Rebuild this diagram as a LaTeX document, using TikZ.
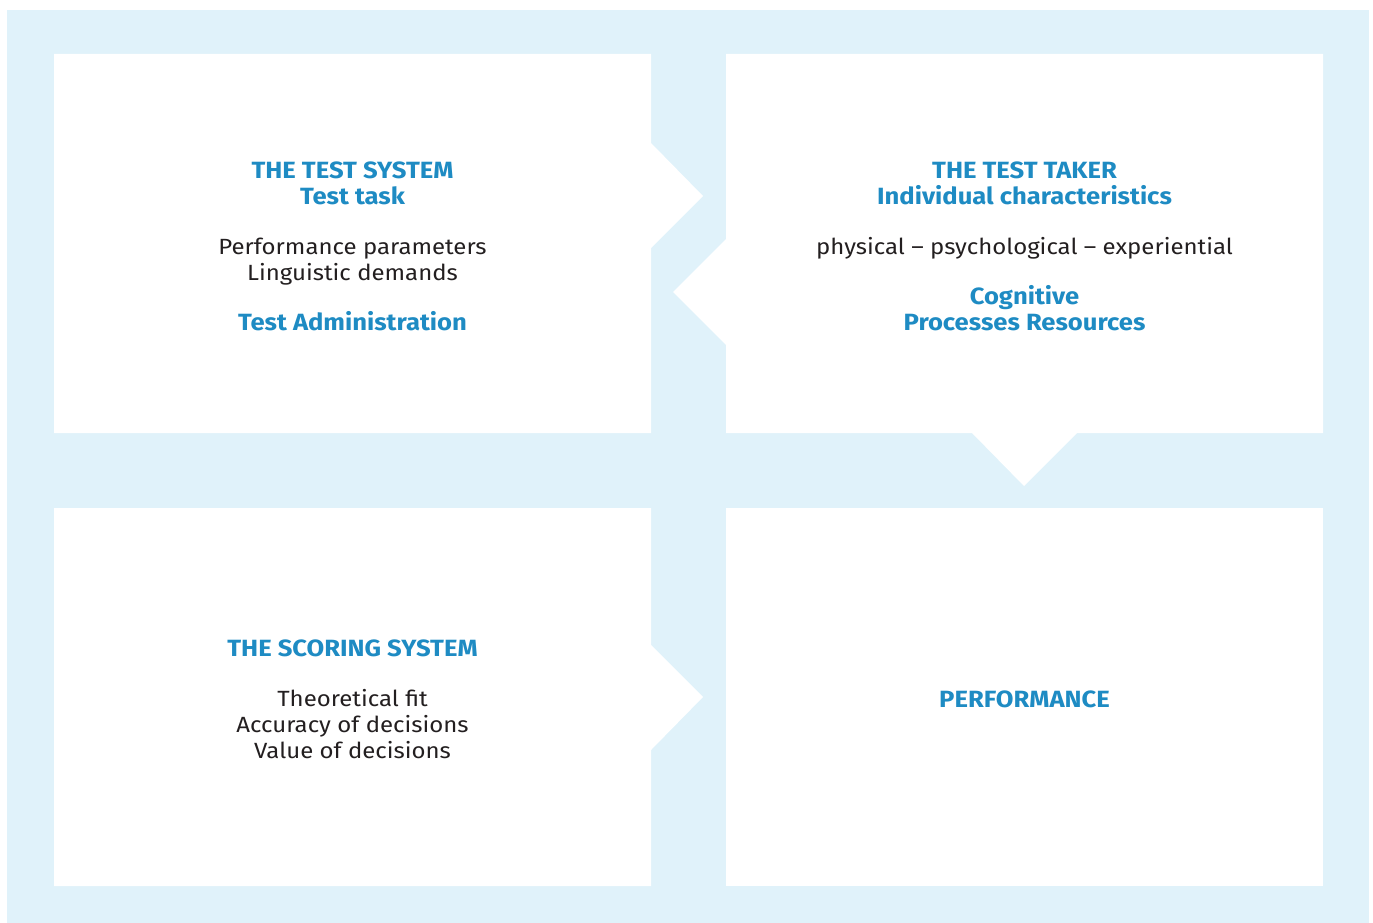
\documentclass[tikz,border=0pt]{standalone}
\usepackage{fontspec}
\setmainfont{Fira Sans}[FakeStretch=1.09]
\usepackage{xcolor}
\usepackage{tikz}
\usetikzlibrary{positioning}
\usetikzlibrary{calc}

\definecolor{PanelBlue}{HTML}{E0F2FA}
\definecolor{HeadBlue}{HTML}{1E8BC3}
\definecolor{BodyGrey}{HTML}{231F20}
\newcommand{\hd}[1]{{\fontsize{23.5}{26}\selectfont\bfseries\color{HeadBlue}#1}}

\tikzset{
	panel/.style={fill=white, draw=none},
	boxtext/.style={align=center, inner sep=0pt, text=BodyGrey,
		font=\fontsize{22}{26}\selectfont},
}

\begin{document}
\begin{tikzpicture}[x=1pt, y=-1pt]
		
		% ---------------------
		% Proper size --- Bounding box
		\useasboundingbox (0,0) rectangle (1373,923);
		\fill[PanelBlue] (7,10) rectangle (1369,923);
		
		% ---------------------
		% Panel corners & notches
		
		\coordinate (SysNW) at (54,54);
		\coordinate (TakNW) at (726,54);
		\coordinate (ScoNW) at (54,508);
		\coordinate (PerNW) at (726,508);
		
		\path (SysNW) +(597,0) coordinate (SysNE);
		\path (SysNE) +(0,89) coordinate (SysTip1);
		\path (SysTip1) +(52,53) coordinate (SysTip2);
		\path (SysTip2) +(-52,52) coordinate (SysTip3);
		\path (SysNW) +(597,379) coordinate (SysSE);
		\path (SysNW) +(0,379) coordinate (SysSW);
		
		\path (TakNW) +(597,0) coordinate (TakNE);
		\path (TakNE) +(0,379) coordinate (TakSE);
		\path (TakSE) +(-246,0) coordinate (TakTip1);
		\path (TakTip1) +(-53,53) coordinate (TakTip2);
		\path (TakTip2) +(-52,-53) coordinate (TakTip3);
		\path (TakNW) +(0,379) coordinate (TakSW);
		\path (TakSW) +(0,-88) coordinate (TakTip4);
		\path (TakTip4) +(-53,-53) coordinate (TakTip5);
		\path (TakTip5) +(53,-53) coordinate (TakTip6);
		
		\path (ScoNW) +(597,0) coordinate (ScoNE);
		\path (ScoNE) +(0,137) coordinate (ScoTip1);
		\path (ScoTip1) +(52,52) coordinate (ScoTip2);
		\path (ScoTip2) +(-52,53) coordinate (ScoTip3);
		\path (ScoNW) +(597,378) coordinate (ScoSE);
		\path (ScoNW) +(0,378) coordinate (ScoSW);
		
		\path (PerNW) +(597,378) coordinate (PerSE);
		
		\fill[panel] (SysNW) -- (SysNE) -- (SysTip1) -- (SysTip2) -- (SysTip3)
			-- (SysSE) -- (SysSW) -- cycle;
		\fill[panel] (TakNW) -- (TakNE) -- (TakSE) -- (TakTip1) -- (TakTip2)
			-- (TakTip3) -- (TakSW) -- (TakTip4) -- (TakTip5) -- (TakTip6) -- cycle;
		\fill[panel] (ScoNW) -- (ScoNE) -- (ScoTip1) -- (ScoTip2) -- (ScoTip3)
			-- (ScoSE) -- (ScoSW) -- cycle;
		\fill[panel] (PerNW) rectangle (PerSE);
		
		% ---------------------
		% Texts
		
		\node[boxtext] (TestSystem) at (352.5,246) {\hd{THE TEST SYSTEM}\\ \hd{Test task}\\[24pt]
			Performance parameters\\ Linguistic demands\\[24pt] \hd{Test Administration}};
		
		\node[boxtext] (TestTaker) at (1024.5,246) {\hd{THE TEST TAKER}\\ \hd{Individual characteristics}\\[24pt]
			physical -- psychological -- experiential\\[24pt] \hd{Cognitive}\\ \hd{Processes Resources}};
		
		\node[boxtext] (Scoring) at (352.5,699) {\hd{THE SCORING SYSTEM}\\[24pt]
			Theoretical fit\\ Accuracy of decisions\\ Value of decisions};
		
		\node[boxtext] (Performance) at (1024.5,699) {\hd{PERFORMANCE}};
		
\end{tikzpicture}
\end{document}
